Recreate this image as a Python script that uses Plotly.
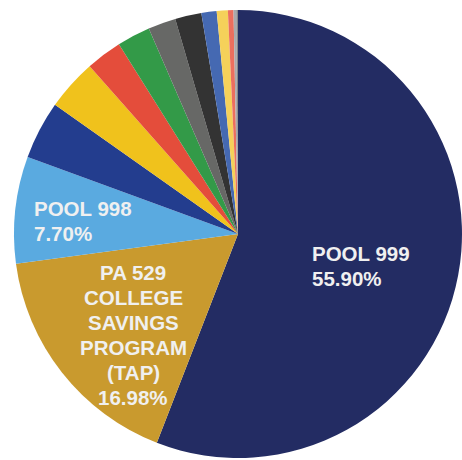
import plotly.graph_objects as go

labels = ["POOL 999", "PA 529 COLLEGE SAVINGS PROGRAM (TAP)", "POOL 998",
          "Fund 4", "Fund 5", "Fund 6", "Fund 7", "Fund 8", "Fund 9",
          "Fund 10", "Fund 11", "Fund 12", "Fund 13", "Fund 14"]
values = [55.90, 16.98, 7.70, 4.2, 3.7, 2.6, 2.4, 2.0, 1.9, 1.1, 0.8, 0.4, 0.2, 0.12]
colors = ["#232C63", "#C99A2E", "#5AAAE0", "#233D8E", "#F0C21C", "#E44D3B",
          "#339A48", "#676866", "#333333", "#4569B2", "#F5D15A", "#EC6F5E",
          "#A9AAAC", "#85878B"]

# on-chart label lines for the three largest slices
label_lines = {0: ["POOL 999"],
               1: ["PA 529", "COLLEGE", "SAVINGS", "PROGRAM", "(TAP)"],
               2: ["POOL 998"]}
# (anchor, x px, first line y px)
label_pos = {0: ("left", 310, 253), 1: ("center", 133, 272), 2: ("left", 32, 209)}
LINE_H = 25

W, H = 462, 460
fig = go.Figure(go.Pie(
    labels=labels, values=values, sort=False, direction="clockwise", rotation=0,
    marker=dict(colors=colors, line=dict(width=0)),
    textinfo="none", hoverinfo="label+percent",
    domain=dict(x=[14 / W, 1.0], y=[1 - 459 / H, 1 - 9 / H]),
    showlegend=False,
))

total = sum(values)
for i, lines in label_lines.items():
    anchor, px, py = label_pos[i]
    pct = values[i] / total * 100
    all_lines = lines + [f"{pct:.2f}%"]
    for k, ln in enumerate(all_lines):
        fig.add_annotation(
            text=f"<b>{ln}</b>",
            x=px / W, y=1 - (py + k * LINE_H) / H, xref="paper", yref="paper",
            xanchor=anchor, yanchor="middle", align=anchor, showarrow=False,
            font=dict(family="Liberation Sans, Arial, sans-serif", size=20.5, color="#F0F0F0"),
        )

fig.update_layout(width=W, height=H, margin=dict(l=0, r=0, t=0, b=0),
                  paper_bgcolor="white", plot_bgcolor="white")
fig.write_html("out.html")
